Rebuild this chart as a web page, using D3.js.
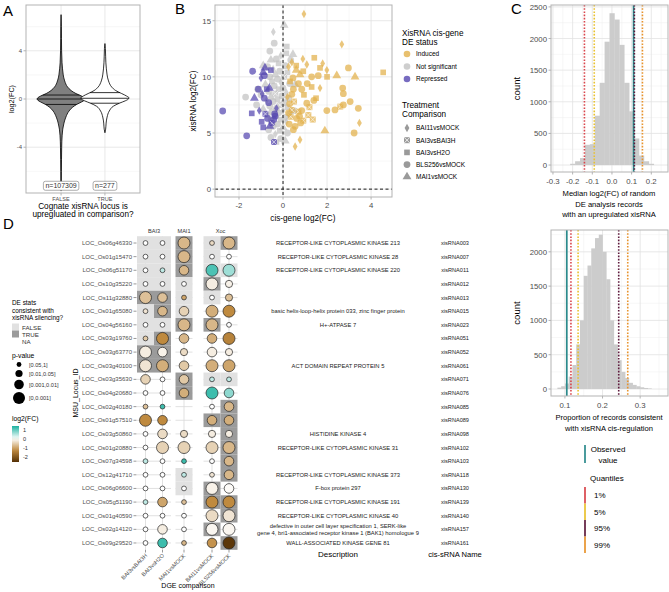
<!DOCTYPE html>
<html>
<head>
<meta charset="utf-8">
<script src="https://cdn.jsdelivr.net/npm/d3@7"></script>
<style>
  body { margin: 0; background: #fff; }
  text { font-family: "Liberation Sans", Arial, sans-serif; }
</style>
</head>
<body>
<script>
// ---------- panel A : violin of log2(FC)
var aCats = ["FALSE", "TRUE"];
var aCounts = ["n=107309", "n=277"];
var aTicks = [-4, 0, 4];
// [log2FC, relative half width]
var aFalseShape = [[7.0,0],[6,0.012],[5,0.016],[4,0.022],[3,0.04],[2.5,0.06],[2,0.09],[1.5,0.15],[1.0,0.27],[0.7,0.42],[0.45,0.62],[0.25,0.85],[0.1,0.97],[0,1],[-0.1,0.97],[-0.25,0.85],[-0.45,0.65],[-0.7,0.47],[-1.0,0.33],[-1.5,0.2],[-2.0,0.12],[-2.5,0.07],[-3,0.045],[-4,0.025],[-5,0.018],[-6,0.012],[-7,0.008],[-7.6,0]];
var aTrueShape = [[4.6,0],[4.2,0.02],[3.5,0.03],[3,0.04],[2.5,0.06],[2,0.09],[1.5,0.15],[1.0,0.28],[0.7,0.45],[0.45,0.7],[0.25,0.9],[0.1,1],[0,0.98],[-0.15,0.85],[-0.35,0.6],[-0.6,0.35],[-1,0.18],[-1.5,0.09],[-2,0.05],[-2.5,0.03],[-2.8,0]];
var aFalseQuant = [0.33, 0, -0.45];
var aTrueQuant = [0.53, 0.06, -0.35];

// ---------- panel B : [cis-gene log2FC, xisRNA log2FC, comparison index]
var bComparisons = ["BAI11vsMOCK", "BAI3vsBAI3H", "BAI3vsH2O", "BLS256vsMOCK", "MAI1vsMOCK"];
var bStatus = ["Induced", "Not significant", "Repressed"];
var bXTicks = [-2, 0, 2, 4];
var bYTicks = [0, 5, 10, 15];
var bNotSig = [[-0.44,14.0,0],[0.05,14.6,4],[0.17,12.7,2],[-1.7,8.2,3],[0.15,12.1,2],[-0.1,11.9,0],[-0.3,11.6,3],[-0.55,11.5,4],[-0.2,11.2,2],[0.1,11.0,3],[-0.7,10.9,3],[-0.45,10.7,0],[-0.15,10.5,3],[0.2,10.4,2],[-0.35,10.2,4],[-0.6,10.0,3],[0.05,10.0,1],[-0.25,9.8,3],[-0.5,9.6,2],[-0.1,9.5,0],[0.3,9.4,3],[-0.8,9.3,4],[-0.4,9.2,3],[0.0,9.0,3],[-0.2,8.9,2],[-0.65,8.7,3],[0.15,8.6,0],[-0.35,8.5,1],[-1.0,8.4,3],[-0.05,8.3,3],[-0.55,8.2,4],[0.25,8.1,3],[-0.25,8.0,2],[-0.75,7.9,0],[-0.45,7.8,3],[0.05,7.7,3],[-0.15,7.5,1],[-0.6,7.4,3],[0.2,7.3,2],[-0.3,7.2,3],[-0.9,7.1,4],[0.0,7.0,0],[-0.5,6.9,3],[-0.2,6.8,3],[0.3,6.7,3],[-0.7,6.6,2],[-0.35,6.5,4],[0.1,6.4,3],[-0.1,6.2,2],[-0.55,6.1,3],[0.15,6.0,0],[-0.25,5.8,3],[-0.45,5.6,3],[0.0,5.5,4],[-0.65,5.3,3],[-0.15,5.2,2],[0.2,5.0,3],[-0.35,4.9,0],[-0.55,4.6,3],[-0.1,4.5,3],[-0.3,4.2,2],[0.1,4.3,4],[-1.15,8.9,3],[-1.2,7.5,3],[0.45,12.0,4],[-0.6,12.3,3],[0.35,11.5,3],[-0.9,11.0,4],[0.5,7.0,3],[0.55,9.3,4],[-0.4,13.0,3]];
var bInduced = [[0.95,15.6,0],[2.67,12.9,0],[0.4,11.3,0],[1.42,11.7,2],[1.08,11.1,0],[1.8,11.2,0],[1.68,10.8,2],[2.97,10.8,3],[1.99,10.6,0],[2.44,10.1,4],[3.27,10.0,4],[1.3,10.0,3],[1.6,10.1,3],[2.0,10.0,2],[0.92,10.5,2],[0.77,10.2,4],[0.7,9.4,3],[1.1,9.4,3],[0.32,9.6,2],[0.47,8.9,3],[0.85,8.9,3],[2.71,9.0,3],[2.74,8.5,3],[1.68,9.0,0],[1.3,9.1,2],[0.4,8.45,3],[0.95,8.4,2],[3.05,7.8,3],[1.2,7.3,1],[2.6,7.35,1],[0.4,7.05,1],[0.7,6.9,1],[0.35,6.45,1],[0.92,6.1,1],[1.35,6.2,1],[1.08,7.65,3],[2.74,7.5,3],[1.99,7.0,3],[2.36,7.05,3],[3.42,7.2,3],[0.62,6.3,3],[0.55,5.6,3],[0.47,5.3,3],[0.8,5.9,3],[3.47,5.9,0],[3.23,5.0,3],[1.9,5.2,4],[0.77,4.4,0],[0.55,3.8,0],[4.55,10.4,2],[0.25,10.9,0],[0.6,11.0,2],[0.2,8.2,0],[0.3,7.6,3],[0.25,6.8,3],[0.5,7.8,1],[0.85,7.0,3],[1.15,6.6,1],[0.6,10.6,4],[0.45,9.9,3],[1.5,8.1,2],[0.9,11.6,0],[0.28,5.8,3],[0.75,6.5,3],[1.4,7.9,3]];
var bRepressed = [[-2.74,6.96,3],[-1.65,4.75,3],[-1.38,10.5,3],[-0.82,10.8,4],[-0.9,10.4,4],[-0.85,10.1,3],[-1.0,9.9,0],[-1.12,8.9,3],[-0.74,8.9,2],[-0.62,9.0,4],[-1.3,8.1,4],[-0.85,8.1,3],[-0.65,7.7,3],[-1.42,6.75,2],[-1.08,7.0,0],[-0.8,6.7,1],[-0.97,6.0,2],[-0.9,5.5,2],[-0.51,5.9,1],[-0.36,6.5,3],[-0.38,6.7,3],[-0.3,7.2,0],[-0.41,4.2,1],[-0.6,5.6,4],[-0.42,6.2,3],[-0.95,8.5,0],[-0.55,10.6,2],[-0.7,6.3,3]];

// ---------- panel C : permutation histograms
var cTopBins = [-0.2,-0.175,-0.15,-0.125,-0.1,-0.075,-0.05,-0.025,0,0.025,0.05,0.075,0.1,0.125,0.15,0.175,0.2];
var cTopCounts = [20,60,110,320,330,780,1300,1950,2400,2300,1900,1300,850,420,150,60,20];
var cTopLines = [0.11, -0.14, -0.09, 0.114, 0.155];   // observed, 1%, 5%, 95%, 99%
var cBotBins = [0.085,0.095,0.105,0.115,0.125,0.135,0.145,0.155,0.165,0.175,0.185,0.195,0.205,0.215,0.225,0.235,0.245,0.255,0.265,0.275,0.285,0.295,0.305,0.315,0.325];
var cBotCounts = [20,40,80,180,350,650,1000,1650,1800,2050,2200,2250,2000,1600,1000,650,420,250,160,90,60,40,25,15,8];
var cBotLines = [0.105, 0.116, 0.135, 0.243, 0.267];
var cQuantiles = ["1%", "5%", "95%", "99%"];

// ---------- panel D : dot matrix
var dRows = ["LOC_Os06g46330","LOC_Os01g15470","LOC_Os06g51170","LOC_Os10g35220","LOC_Os11g32880","LOC_Os01g65080","LOC_Os04g56160","LOC_Os03g19760","LOC_Os03g63770","LOC_Os03g40100","LOC_Os03g35630","LOC_Os04g20680","LOC_Os02g40180","LOC_Os01g57510","LOC_Os03g50860","LOC_Os01g20880","LOC_Os07g34598","LOC_Os12g41710","LOC_Os06g06600","LOC_Os05g51190","LOC_Os01g40590","LOC_Os02g14120","LOC_Os09g29520"];
var dDesc = ["RECEPTOR-LIKE CYTOPLASMIC KINASE 213","RECEPTOR-LIKE CYTOPLASMIC KINASE 28","RECEPTOR-LIKE CYTOPLASMIC KINASE 220","","","basic helix-loop-helix protein 033, zinc finger protein","H+-ATPASE 7","","","ACT DOMAIN REPEAT PROTEIN 5","","","","","HISTIDINE KINASE 4","RECEPTOR-LIKE CYTOPLASMIC KINASE 31","","RECEPTOR-LIKE CYTOPLASMIC KINASE 373","F-box protein 297","RECEPTOR-LIKE CYTOPLASMIC KINASE 191","RECEPTOR-LIKE CYTOPLASMIC KINASE 40","defective in outer cell layer specification 1, SERK-like|gene 4, bri1-associated receptor kinase 1 (BAK1) homologue 9","WALL-ASSOCIATED KINASE GENE 81"];
var dNames = ["xisRNA003","xisRNA007","xisRNA011","xisRNA012","xisRNA013","xisRNA015","xisRNA023","xisRNA051","xisRNA052","xisRNA061","xisRNA071","xisRNA076","xisRNA085","xisRNA089","xisRNA098","xisRNA102","xisRNA103","xisRNA118","xisRNA130","xisRNA139","xisRNA140","xisRNA157","xisRNA161"];
var dComparisons = ["BAI3vsBAI3H","BAI3vsH2O","MAI1vsMOCK","BAI11vsMOCK","BLS256vsMOCK"];
var dFacetOf = ["BAI3","BAI3","MAI1","Xoc","Xoc"];
var dFacets = ["BAI3","MAI1","Xoc"];
// p-value class: 1 [0.05,1], 2 [0.01,0.05], 3 [0.001,0.01], 4 [0,0.001], 0 no record
var dPclass = [[1,1,4,1,4],[1,1,4,1,1],[1,1,3,4,4],[1,1,1,4,2],[4,3,1,1,2],[1,3,3,4,4],[1,1,4,4,1],[1,4,3,3,4],[4,3,2,3,2],[4,4,3,4,4],[3,1,3,1,1],[1,1,3,4,3],[1,1,0,1,3],[4,3,0,3,3],[1,3,2,2,2],[1,4,4,4,4],[1,1,1,1,3],[1,1,1,1,3],[1,1,1,4,3],[1,3,1,4,4],[1,1,1,4,4],[1,3,1,4,4],[1,3,1,3,4]];
var dFC = [[0,0,-0.8,-0.4,-0.8],[0,0,-0.8,0,0],[0,0.4,-0.8,1.1,0.6],[0,0,0,-0.2,-0.15],[-0.7,-0.7,-1.0,0,-0.7],[-0.3,-0.8,-0.5,-0.9,-1.3],[0,0,-0.8,-0.8,0],[-0.6,-1.3,-0.8,-0.9,-1.4],[-0.2,-0.15,-0.4,-0.2,-0.2],[-0.3,-0.9,-0.6,-0.9,-1.0],[-0.5,0,-0.6,0.4,0.4],[0,0,-0.9,1.2,0.7],[-0.7,1.2,0,0,-0.8],[-1.3,-1.3,0,-0.9,-0.9],[0,-0.4,-0.4,-0.2,-0.2],[0,-0.5,-0.5,-0.5,-0.8],[0.4,0,1.2,0,-0.8],[0,0,0.4,-0.3,-0.8],[0,0,0,-0.15,-0.05],[0.4,-1.0,-0.7,-1.3,-1.3],[0,0,0,-0.4,-0.3],[0,-0.2,0,-0.1,-0.1],[0,1.2,-0.8,-1.2,-2.5]];
// consistent with silencing: F = FALSE, T = TRUE, - = NA
var dConsistent = ["FFTFT","FFTF-","FFTFF","FFFT-","TTFF-","FTF--","FFTT-","FT---","TT---","TT---","--TFF","--T--","----T","---TT","----T","----T","----T","--F-T","--FT-","---TT","----T","---T-","----T"];
var dPLabels = ["[0.05,1]", "[0.01,0.05]", "[0.001,0.01]", "[0,0.001]"];
var dFCTicks = [1, 0, -1, -2];

// ================= drawing
var svg = d3.select("body").append("svg").attr("width", 669).attr("height", 592);
var gridMajor = "#e2e2e2", gridMinor = "#efefef", frame = "#b3b3b3", tickTxt = "#4d4d4d";

function label(g, x, y, s, size, anchor, color) {
  return g.append("text").attr("x", x).attr("y", y).attr("font-size", size)
    .attr("text-anchor", anchor || "start").attr("fill", color || "#000").text(s);
}
function hLines(g, vals, y, x0, x1, col, w) {
  g.selectAll(null).data(vals).enter().append("line")
    .attr("x1", x0).attr("x2", x1).attr("y1", function(d){ return y(d); }).attr("y2", function(d){ return y(d); })
    .attr("stroke", col).attr("stroke-width", w);
}
function vLines(g, vals, x, y0, y1, col, w) {
  g.selectAll(null).data(vals).enter().append("line")
    .attr("y1", y0).attr("y2", y1).attr("x1", function(d){ return x(d); }).attr("x2", function(d){ return x(d); })
    .attr("stroke", col).attr("stroke-width", w);
}

label(svg, 3, 16, "A", 15);
label(svg, 175, 14, "B", 15);
label(svg, 511, 14, "C", 15);
label(svg, 3, 229, "D", 15);

// ----- A
var ax = d3.scalePoint().domain(aCats).range([26, 140]).padding(0.8);
var ay = d3.scaleLinear().domain([-7.8, 7.8]).range([193, 5]);
var pA = svg.append("g");
hLines(pA, [-6, -2, 2, 6], ay, 26, 140, gridMinor, 0.5);
hLines(pA, aTicks, ay, 26, 140, gridMajor, 0.8);
vLines(pA, aCats, ax, 5, 193, gridMajor, 0.8);
var hw = 24;
[[aFalseShape, "#808080", aFalseQuant], [aTrueShape, "#ffffff", aTrueQuant]].forEach(function(v, i) {
  var cx = ax(aCats[i]);
  var area = d3.area().curve(d3.curveMonotoneY)
    .y(function(d){ return ay(d[0]); })
    .x0(function(d){ return cx - d[1] * hw; })
    .x1(function(d){ return cx + d[1] * hw; });
  pA.append("path").datum(v[0]).attr("d", area).attr("fill", v[1])
    .attr("stroke", "#000").attr("stroke-width", 0.8);
  var wq = d3.scaleLinear().domain(v[0].map(function(d){ return d[0]; })).range(v[0].map(function(d){ return d[1]; }));
  pA.selectAll(null).data(v[2]).enter().append("line")
    .attr("x1", function(d){ return cx - wq(d) * hw; }).attr("x2", function(d){ return cx + wq(d) * hw; })
    .attr("y1", function(d){ return ay(d); }).attr("y2", function(d){ return ay(d); })
    .attr("stroke", "#000").attr("stroke-width", 0.8);
  var g = pA.append("g").attr("transform", "translate(" + cx + "," + ay(-7.2) + ")");
  var t = g.append("text").attr("y", 2.5).attr("text-anchor", "middle").attr("font-size", 7).attr("fill", "#333").text(aCounts[i]);
  var bb = t.node().getBBox();
  g.insert("rect", "text").attr("x", bb.x - 2).attr("y", bb.y - 1).attr("width", bb.width + 4).attr("height", bb.height + 2)
    .attr("rx", 2).attr("fill", "#fff").attr("stroke", "#777").attr("stroke-width", 0.6);
});
pA.append("rect").attr("x", 26).attr("y", 5).attr("width", 114).attr("height", 188).attr("fill", "none").attr("stroke", frame);
aTicks.forEach(function(d){
  label(pA, 22, ay(d) + 2, String(d), 6, "end", tickTxt);
  pA.append("line").attr("x1", 23.5).attr("x2", 26).attr("y1", ay(d)).attr("y2", ay(d)).attr("stroke", frame);
});
aCats.forEach(function(c){
  label(pA, ax(c), 201, c, 5.6, "middle", tickTxt);
  pA.append("line").attr("x1", ax(c)).attr("x2", ax(c)).attr("y1", 193).attr("y2", 195.5).attr("stroke", frame);
});
label(pA, 83, 209, "Cognate xisRNA locus is", 8.2, "middle");
label(pA, 83, 217, "upregluated in comparison?", 8.2, "middle");
label(pA, 0, 0, "log2(FC)", 7.2, "middle").attr("transform", "translate(14,99) rotate(-90)");

// ----- B
var bx = d3.scaleLinear().domain([-3.09, 4.95]).range([215, 392]);
var by = d3.scaleLinear().domain([-0.7, 16.4]).range([197, 5]);
var statusCol = ["#e2b04a", "#c2c2c2", "#5546b0"];
var pB = svg.append("g");
hLines(pB, [2.5, 7.5, 12.5], by, 215, 392, gridMinor, 0.5);
vLines(pB, [-3, -1, 1, 3], bx, 5, 197, gridMinor, 0.5);
hLines(pB, bYTicks, by, 215, 392, gridMajor, 0.8);
vLines(pB, bXTicks, bx, 5, 197, gridMajor, 0.8);
function shapePath(k) {
  if (k === 0) return d3.symbol(d3.symbolDiamond, 20)();
  if (k === 1) return "M-3,-3H3V3H-3Z";
  if (k === 2) return d3.symbol(d3.symbolSquare, 32)();
  if (k === 3) return d3.symbol(d3.symbolCircle, 36)();
  return d3.symbol(d3.symbolTriangle, 34)();
}
function drawPts(data, col) {
  var g = pB.selectAll(null).data(data).enter().append("g")
    .attr("transform", function(d){ return "translate(" + bx(d[0]) + "," + by(d[1]) + ")"; });
  g.append("path").attr("d", function(d){ return shapePath(d[2]); }).attr("fill", col).attr("fill-opacity", 0.72);
  g.filter(function(d){ return d[2] === 1; }).append("path").attr("d", "M-3,-3L3,3M3,-3L-3,3")
    .attr("stroke", "#fff").attr("stroke-opacity", 0.7).attr("stroke-width", 0.8);
}
drawPts(bNotSig, statusCol[1]);
drawPts(bInduced, statusCol[0]);
drawPts(bRepressed, statusCol[2]);
pB.append("line").attr("x1", bx(0)).attr("x2", bx(0)).attr("y1", 5).attr("y2", 197)
  .attr("stroke", "#000").attr("stroke-width", 0.9).attr("stroke-dasharray", "3,2.5");
pB.append("line").attr("y1", by(0)).attr("y2", by(0)).attr("x1", 215).attr("x2", 392)
  .attr("stroke", "#000").attr("stroke-width", 0.9).attr("stroke-dasharray", "3,2.5");
pB.append("rect").attr("x", 215).attr("y", 5).attr("width", 177).attr("height", 192).attr("fill", "none").attr("stroke", frame);
bYTicks.forEach(function(d){
  label(pB, 211, by(d) + 3, String(d), 7.8, "end", tickTxt);
  pB.append("line").attr("x1", 212.5).attr("x2", 215).attr("y1", by(d)).attr("y2", by(d)).attr("stroke", frame);
});
bXTicks.forEach(function(d){
  label(pB, bx(d), 208, String(d), 7.8, "middle", tickTxt);
  pB.append("line").attr("x1", bx(d)).attr("x2", bx(d)).attr("y1", 197).attr("y2", 199.5).attr("stroke", frame);
});
label(pB, bx(0.9), 221, "cis-gene log2(FC)", 8.2, "middle");
label(pB, 0, 0, "xisRNA log2(FC)", 8.2, "middle").attr("transform", "translate(196,101) rotate(-90)");
// legend
label(pB, 402, 36, "XisRNA cis-gene", 8.2);
label(pB, 402, 44.5, "DE status", 8.2);
bStatus.forEach(function(s, i){
  pB.append("circle").attr("cx", 407).attr("cy", 54 + i * 12.5).attr("r", 3.3).attr("fill", statusCol[i]).attr("fill-opacity", 0.8);
  label(pB, 416, 56.3 + i * 12.5, s, 6.5);
});
label(pB, 402, 108, "Treatment", 8.2);
label(pB, 402, 116.5, "Comparison", 8.2);
bComparisons.forEach(function(s, i){
  var g = pB.append("g").attr("transform", "translate(407," + (128 + i * 12.2) + ")");
  g.append("path").attr("d", shapePath(i)).attr("fill", "#9a9a9a");
  if (i === 1) g.append("path").attr("d", "M-3,-3L3,3M3,-3L-3,3").attr("stroke", "#fff").attr("stroke-width", 0.8);
  label(pB, 416, 130.3 + i * 12.2, s, 6.5);
});

// ----- C
var quantCol = ["#d9454b", "#e9c12f", "#5e1a3c", "#e8932c"];
var obsCol = "#2b8a8c";
function hist(o) {
  var g = svg.append("g");
  var x = d3.scaleLinear().domain(o.xd).range([551, 668]);
  var y = d3.scaleLinear().domain(o.yd).range([o.bot, o.top]);
  hLines(g, o.yMinor, y, 551, 668, gridMinor, 0.5);
  vLines(g, o.xMinor, x, o.top, o.bot, gridMinor, 0.5);
  hLines(g, o.yTicks, y, 551, 668, gridMajor, 0.8);
  vLines(g, o.xTicks, x, o.top, o.bot, gridMajor, 0.8);
  g.selectAll(null).data(o.bins).enter().append("rect")
    .attr("x", function(d){ return x(d - o.bw / 2); })
    .attr("width", function(d){ return x(d + o.bw / 2) - x(d - o.bw / 2) + 0.3; })
    .attr("y", function(d, i){ return y(o.counts[i]); })
    .attr("height", function(d, i){ return y(0) - y(o.counts[i]); })
    .attr("fill", "#cccccc");
  vLines(g, [o.lines[0]], x, o.top, o.bot, obsCol, 1.7);
  g.selectAll(null).data(o.lines.slice(1)).enter().append("line")
    .attr("x1", function(d){ return x(d); }).attr("x2", function(d){ return x(d); })
    .attr("y1", o.top).attr("y2", o.bot)
    .attr("stroke", function(d, i){ return quantCol[i]; }).attr("stroke-width", 1.6).attr("stroke-dasharray", "1.6,1.6");
  g.append("rect").attr("x", 551).attr("y", o.top).attr("width", 117).attr("height", o.bot - o.top).attr("fill", "none").attr("stroke", frame);
  o.yTicks.forEach(function(d){
    label(g, 547, y(d) + 3, String(d), 7.8, "end", tickTxt);
    g.append("line").attr("x1", 548.5).attr("x2", 551).attr("y1", y(d)).attr("y2", y(d)).attr("stroke", frame);
  });
  o.xTicks.forEach(function(d){
    label(g, x(d), o.bot + 12, d.toFixed(1), 7.8, "middle", tickTxt);
    g.append("line").attr("x1", x(d)).attr("x2", x(d)).attr("y1", o.bot).attr("y2", o.bot + 2.5).attr("stroke", frame);
  });
  o.title.forEach(function(s, i){ label(g, 609, o.bot + 24 + i * 10.5, s, 7.6, "middle"); });
  label(g, 0, 0, "count", 9.5, "middle").attr("transform", "translate(520," + ((o.top + o.bot) / 2) + ") rotate(-90)");
}
hist({xd: [-0.31, 0.285], yd: [-110, 2530], top: 5, bot: 172, bins: cTopBins, counts: cTopCounts, bw: 0.025,
  xTicks: [-0.3, -0.2, -0.1, 0, 0.1, 0.2], xMinor: [-0.25, -0.15, -0.05, 0.05, 0.15, 0.25],
  yTicks: [0, 500, 1000, 1500, 2000, 2500], yMinor: [250, 750, 1250, 1750, 2250],
  lines: cTopLines, title: ["Median log2(FC) of random", "DE analysis records", "with an upregulated xisRNA"]});
hist({xd: [0.063, 0.374], yd: [-102, 2318], top: 230, bot: 396, bins: cBotBins, counts: cBotCounts, bw: 0.01,
  xTicks: [0.1, 0.2, 0.3], xMinor: [0.15, 0.25, 0.35],
  yTicks: [0, 500, 1000, 1500, 2000], yMinor: [250, 750, 1250, 1750, 2250],
  lines: cBotLines, title: ["Proportion of records consistent", "with xisRNA cis-regulation"]});
// C legend
var lc = svg.append("g");
lc.append("line").attr("x1", 585).attr("x2", 585).attr("y1", 445).attr("y2", 463).attr("stroke", obsCol).attr("stroke-width", 1.7);
label(lc, 608, 452, "Observed", 8, "middle");
label(lc, 608, 463, "value", 8, "middle");
label(lc, 590, 481, "Quantiles", 8);
cQuantiles.forEach(function(q, i){
  lc.append("line").attr("x1", 585).attr("x2", 585).attr("y1", 487 + i * 16.5).attr("y2", 503.5 + i * 16.5)
    .attr("stroke", quantCol[i]).attr("stroke-width", 1.7);
  label(lc, 594, 498 + i * 16.5, q, 8);
});

// ----- D
var pD = svg.append("g");
var facetRange = {BAI3: [137, 171], MAI1: [175.5, 192.5], Xoc: [203.5, 237.5]};
var facetScale = {};
dFacets.forEach(function(f){
  facetScale[f] = d3.scaleBand().domain(dComparisons.filter(function(c, i){ return dFacetOf[i] === f; })).range(facetRange[f]);
});
function colX(j) { var s = facetScale[dFacetOf[j]]; return s(dComparisons[j]) + s.bandwidth() / 2; }
var ry = d3.scaleBand().domain(dRows).range([236.2, 549.8]);
var rowY = function(r){ return ry(r) + ry.bandwidth() / 2; };
var fcCol = d3.scaleLinear().domain([-2.6, -1.3, 0, 1.3]).range(["#543005", "#bf8a3f", "#ffffff", "#2db7a6"]);
var pR = [0, 2.4, 3.6, 4.8, 6.0];
var tileCol = {F: "#e1e1e1", T: "#9b9b9b"};

// grid
dFacets.forEach(function(f){
  hLines(pD, dRows, rowY, facetRange[f][0], facetRange[f][1], "#d9d9d9", 0.8);
});
dComparisons.forEach(function(c, j){
  pD.append("line").attr("x1", colX(j)).attr("x2", colX(j)).attr("y1", 236.2).attr("y2", 549.8).attr("stroke", "#d9d9d9").attr("stroke-width", 0.8);
});
// tiles
dRows.forEach(function(r, i){
  dComparisons.forEach(function(c, j){
    var k = dConsistent[i][j];
    if (k === "-") return;
    var s = facetScale[dFacetOf[j]];
    pD.append("rect").attr("x", s(c)).attr("y", ry(r)).attr("width", s.bandwidth()).attr("height", ry.bandwidth())
      .attr("fill", tileCol[k]);
  });
});
// dots
dRows.forEach(function(r, i){
  dComparisons.forEach(function(c, j){
    var p = dPclass[i][j];
    if (!p) return;
    pD.append("circle").attr("cx", colX(j)).attr("cy", rowY(r)).attr("r", pR[p])
      .attr("fill", fcCol(dFC[i][j])).attr("stroke", "#222").attr("stroke-width", 0.7);
  });
});
// strips and axes
dFacets.forEach(function(f){
  label(pD, (facetRange[f][0] + facetRange[f][1]) / 2, 233, f, 5.6, "middle", "#333");
});
dRows.forEach(function(r, i){
  label(pD, 132, rowY(r) + 2, r, 6, "end", tickTxt);
  pD.append("line").attr("x1", 133.5).attr("x2", 136.5).attr("y1", rowY(r)).attr("y2", rowY(r)).attr("stroke", "#555").attr("stroke-width", 0.6);
  var lines = dDesc[i].split("|");
  lines.forEach(function(s, k){
    label(pD, 338, rowY(r) + 2 + (k - (lines.length - 1) / 2) * 7.4, s, 5.8, "middle", "#222");
  });
  label(pD, 455, rowY(r) + 2, dNames[i], 5.6, "middle", "#222");
});
dComparisons.forEach(function(c, j){
  pD.append("line").attr("x1", colX(j)).attr("x2", colX(j)).attr("y1", 549.8).attr("y2", 552.5).attr("stroke", "#555").attr("stroke-width", 0.6);
  label(pD, 0, 0, c, 5.6, "end", tickTxt).attr("transform", "translate(" + (colX(j) + 2) + ",556) rotate(-45)");
});
label(pD, 188, 588, "DGE comparison", 7, "middle");
label(pD, 0, 0, "MSU_Locus_ID", 7, "middle").attr("transform", "translate(78," + rowY(dRows[11]) + ") rotate(-90)");
label(pD, 338, 557, "Description", 8, "middle");
label(pD, 455, 557, "cis-sRNA Name", 7.6, "middle");

// D legends
var lD = svg.append("g");
label(lD, 12, 305, "DE stats", 6.4);
label(lD, 12, 312.5, "consistent with", 6.4);
label(lD, 12, 320, "xisRNA silencing?", 6.4);
[["FALSE", "F"], ["TRUE", "T"], ["NA", null]].forEach(function(d, i){
  if (d[1]) lD.append("rect").attr("x", 12).attr("y", 323.5 + i * 7).attr("width", 7).attr("height", 7).attr("fill", tileCol[d[1]]);
  label(lD, 22, 329.5 + i * 7, d[0], 6.2, "start", "#333");
});
label(lD, 12, 358, "p-value", 6.8);
var legY = [364.5, 373.5, 384.5, 398];
dPLabels.forEach(function(s, i){
  lD.append("circle").attr("cx", 19).attr("cy", legY[i]).attr("r", pR[i + 1]).attr("fill", "#000");
  label(lD, 29, legY[i] + 2, s, 5.6, "start", "#333");
});
label(lD, 12, 421, "log2(FC)", 6.8);
var grad = svg.append("defs").append("linearGradient").attr("id", "fcgrad")
  .attr("x1", "0%").attr("y1", "0%").attr("x2", "0%").attr("y2", "100%");
var cbY = d3.scaleLinear().domain([1.4, -2.6]).range([426, 462]);
d3.range(0, 1.0001, 0.1).forEach(function(t){
  var v = 1.4 - t * 4;
  grad.append("stop").attr("offset", (t * 100) + "%").attr("stop-color", fcCol(v));
});
lD.append("rect").attr("x", 12).attr("y", 426).attr("width", 7).attr("height", 36).attr("fill", "url(#fcgrad)");
dFCTicks.forEach(function(d){
  label(lD, 23, cbY(d) + 2, String(d), 5.6, "start", "#333");
});
</script>
</body>
</html>
